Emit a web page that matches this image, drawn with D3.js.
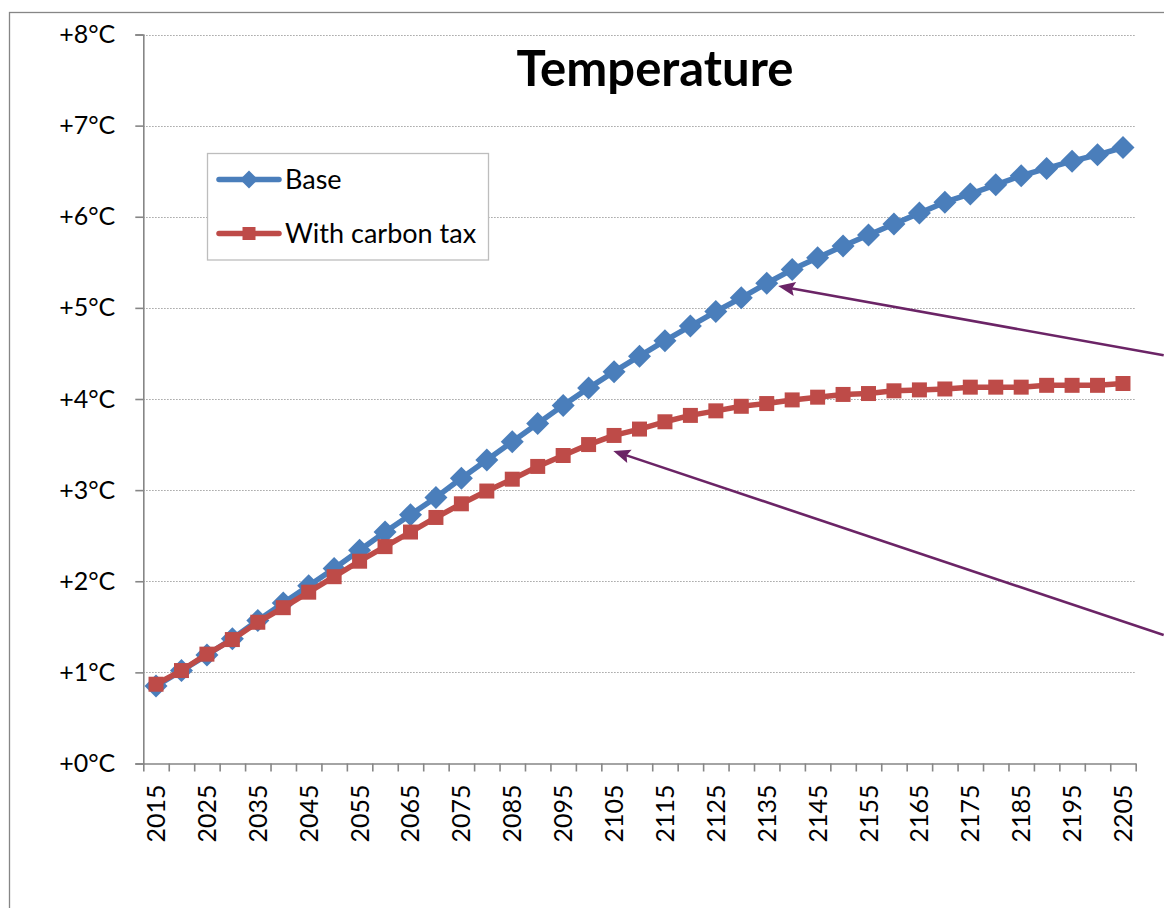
<!DOCTYPE html>
<html>
<head>
<meta charset="utf-8">
<script src="https://cdn.jsdelivr.net/npm/d3@7"></script>
<style>
body { margin: 0; background: #fff; }
text { font-family: Lato, "Noto Sans", sans-serif; fill: #000; }
</style>
</head>
<body>
<div id="main-chart"></div>
<script>
var years = [2015, 2020, 2025, 2030, 2035, 2040, 2045, 2050, 2055, 2060,
	     2065, 2070, 2075, 2080, 2085, 2090, 2095, 2100, 2105, 2110,
	     2115, 2120, 2125, 2130, 2135, 2140, 2145, 2150, 2155, 2160,
	     2165, 2170, 2175, 2180, 2185, 2190, 2195, 2200, 2205];
var base = [0.85, 1.02, 1.19, 1.37, 1.57, 1.76, 1.95, 2.14, 2.34, 2.54,
	    2.73, 2.92, 3.13, 3.33, 3.53, 3.73, 3.93, 4.12, 4.30, 4.47,
	    4.64, 4.80, 4.96, 5.11, 5.27, 5.42, 5.55, 5.68, 5.80, 5.92,
	    6.04, 6.16, 6.25, 6.35, 6.45, 6.53, 6.61, 6.68, 6.76];
var carbonTax = [0.87, 1.02, 1.20, 1.36, 1.55, 1.71, 1.88, 2.05, 2.22, 2.38,
		 2.54, 2.70, 2.85, 2.99, 3.12, 3.26, 3.38, 3.50, 3.60, 3.67,
		 3.75, 3.82, 3.87, 3.92, 3.95, 3.99, 4.02, 4.05, 4.06, 4.09,
		 4.10, 4.11, 4.13, 4.13, 4.13, 4.15, 4.15, 4.15, 4.17];
var seriesNames = ["Base", "With carbon tax"];
var yTicks = [0, 1, 2, 3, 4, 5, 6, 7, 8];
// arrows: tail / tip in (category index, temperature) units
var arrows = [
    { x1: 40.1, y1: 4.48, x2: 24.95, y2: 5.24 },
    { x1: 40.1, y1: 1.41, x2: 18.47, y2: 3.43 }
];

var w = 1164, h = 908;
var plotLeft = 143.3, plotRight = 1135.7, plotTop = 34.5, plotBottom = 763.5;
var blue = "#4a7ebb", red = "#be4b48", axisCol = "#868686", arrowCol = "#6b2466";

var svg = d3.select("#main-chart")
    .append("svg")
    .attr("width", w)
    .attr("height", h);

// outer chart frame (only left and top edges visible)
svg.append("rect")
    .attr("x", 9.5)
    .attr("y", 12.5)
    .attr("width", w + 20)
    .attr("height", h + 20)
    .attr("fill", "none")
    .attr("stroke", axisCol)
    .attr("stroke-width", 1.3);

// x is a linear scale over category boundaries
var x = d3.scaleLinear()
    .domain([0, years.length])
    .range([plotLeft, plotRight]);
var y = d3.scaleLinear()
    .domain([0, 8])
    .range([plotBottom, plotTop]);

// grid
svg.append("g")
    .selectAll("line")
    .data(yTicks.filter(function(d) { return d > 0; }))
    .enter()
    .append("line")
    .attr("x1", plotLeft)
    .attr("x2", plotRight)
    .attr("y1", function(d) { return Math.round(y(d)) + 0.5; })
    .attr("y2", function(d) { return Math.round(y(d)) + 0.5; })
    .attr("stroke", "#8c8c8c")
    .attr("stroke-width", 1)
    .attr("stroke-dasharray", "1.2,1.8");

var yAxis = d3.axisLeft(y)
    .tickValues(yTicks)
    .tickSize(8)
    .tickPadding(20)
    .tickFormat(function(d) { return "+" + d + "\u00b0C"; });

var gy = svg.append("g")
    .attr("transform", "translate(" + plotLeft + ",0)")
    .call(yAxis);
gy.select(".domain").attr("stroke", axisCol).attr("stroke-width", 1.6);
gy.selectAll(".tick line").attr("stroke", axisCol).attr("stroke-width", 1.6);
gy.selectAll(".tick text")
    .attr("font-size", "25px")
    .attr("font-family", "Lato, sans-serif")
    .attr("fill", "#000");

var xAxis = d3.axisBottom(x)
    .tickValues(d3.range(0, years.length + 1))
    .tickSize(8)
    .tickSizeOuter(0)
    .tickFormat("");

var gx = svg.append("g")
    .attr("transform", "translate(0," + plotBottom + ")")
    .call(xAxis);
gx.select(".domain").attr("stroke", axisCol).attr("stroke-width", 1.6);
gx.selectAll(".tick line").attr("stroke", axisCol).attr("stroke-width", 1.6);

// year labels, every other category, rotated
svg.append("g")
    .selectAll("text")
    .data(years.filter(function(d, i) { return i % 2 == 0; }))
    .enter()
    .append("text")
    .attr("transform", function(d) {
	var i = years.indexOf(d);
	return "translate(" + (x(i + 0.5) + 9) + "," + (plotBottom + 21) + ") rotate(-90)";
    })
    .attr("text-anchor", "end")
    .attr("font-size", "25px")
    .text(function(d) { return d; });

// title
svg.append("text")
    .attr("x", 655)
    .attr("y", 86)
    .attr("text-anchor", "middle")
    .attr("font-size", "49px")
    .attr("font-weight", "bold")
    .text("Temperature");

var line = d3.line()
    .x(function(d, i) { return x(i + 0.5); })
    .y(function(d) { return y(d); });

var diamond = "M0,-11.5L11.5,0L0,11.5L-11.5,0Z";
var square = "M-7.5,-7.5H7.5V7.5H-7.5Z";

function drawSeries(vals, col, shape) {
    var g = svg.append("g");
    g.append("path")
	.datum(vals)
	.attr("d", line)
	.attr("fill", "none")
	.attr("stroke", col)
	.attr("stroke-width", 5.5)
	.attr("stroke-linejoin", "round");
    g.selectAll(".mk")
	.data(vals)
	.enter()
	.append("path")
	.attr("class", "mk")
	.attr("d", shape)
	.attr("transform", function(d, i) { return "translate(" + x(i + 0.5) + "," + y(d) + ")"; })
	.attr("fill", col);
}
drawSeries(base, blue, diamond);
drawSeries(carbonTax, red, square);

// arrows: line plus a drawn head at the tip
var ag = svg.append("g")
    .selectAll("g")
    .data(arrows)
    .enter()
    .append("g")
    .attr("transform", function(d) {
	var ang = Math.atan2(y(d.y2) - y(d.y1), x(d.x2) - x(d.x1)) * 180 / Math.PI;
	return "translate(" + x(d.x2) + "," + y(d.y2) + ") rotate(" + ang + ")";
    });
ag.append("line")
    .attr("x1", function(d) {
	var dx = x(d.x2) - x(d.x1), dy = y(d.y2) - y(d.y1);
	return -Math.sqrt(dx * dx + dy * dy);
    })
    .attr("x2", -10)
    .attr("stroke", arrowCol)
    .attr("stroke-width", 2.6);
ag.append("path")
    .attr("d", "M0,0L-17,-7L-14,0L-17,7Z")
    .attr("fill", arrowCol);

// legend
var lg = svg.append("g");
lg.append("rect")
    .attr("x", 207.5)
    .attr("y", 153.5)
    .attr("width", 281)
    .attr("height", 106.5)
    .attr("fill", "#fff")
    .attr("stroke", "#bdbdbd")
    .attr("stroke-width", 1.3);

var legendItems = lg.selectAll(".item")
    .data(seriesNames)
    .enter()
    .append("g")
    .attr("class", "item")
    .attr("transform", function(d, i) { return "translate(0," + (179.5 + i * 54) + ")"; });
legendItems.append("line")
    .attr("x1", 219)
    .attr("x2", 279)
    .attr("stroke", function(d, i) { return i == 0 ? blue : red; })
    .attr("stroke-width", 5.5)
    .attr("stroke-linecap", "round");
legendItems.append("path")
    .attr("d", function(d, i) { return i == 0 ? "M0,-9L9,0L0,9L-9,0Z" : "M-6.5,-6.5H6.5V6.5H-6.5Z"; })
    .attr("transform", "translate(249,0)")
    .attr("fill", function(d, i) { return i == 0 ? blue : red; });
legendItems.append("text")
    .attr("x", 285)
    .attr("y", 9.5)
    .attr("font-size", "27px")
    .text(function(d) { return d; });
</script>
</body>
</html>
